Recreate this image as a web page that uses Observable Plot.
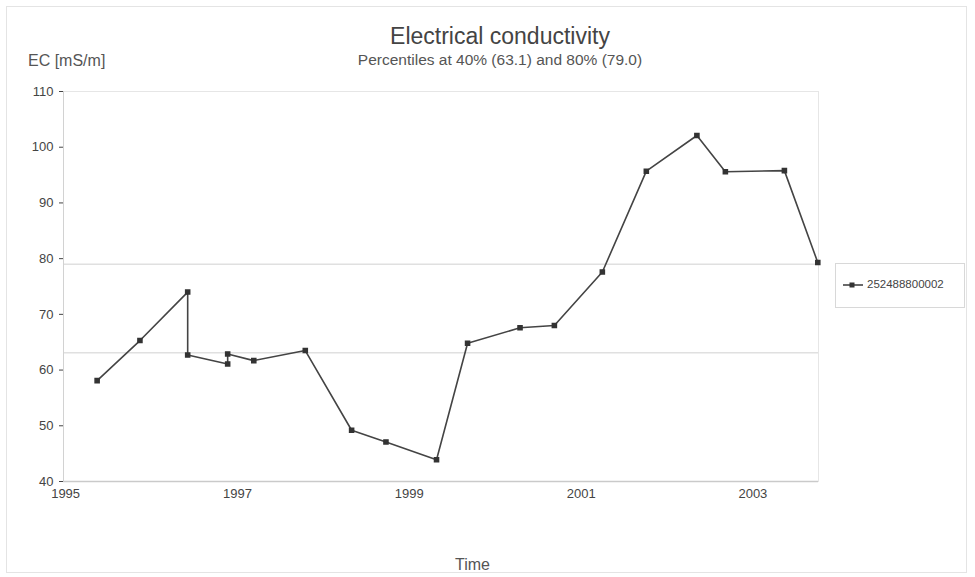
<!DOCTYPE html>
<html>
<head>
<meta charset="utf-8">
<script src="https://cdn.jsdelivr.net/npm/d3@7"></script>
<script src="https://cdn.jsdelivr.net/npm/@observablehq/plot@0.6"></script>
<style>
  html, body { margin: 0; padding: 0; background: #fff; }
  #wrap { position: relative; width: 975px; height: 577px; font-family: "Liberation Sans", Arial, sans-serif; color: #3a3a3a; }
  .abs { position: absolute; white-space: nowrap; }
  #border { position: absolute; left: 6px; top: 6px; width: 961px; height: 567px; border: 1px solid #e4e4e4; box-sizing: border-box; }
  #title { left: 0; width: 1000px; top: 23px; text-align: center; font-size: 23px; color: #444; }
  #subtitle { left: 0; width: 1000px; top: 51px; text-align: center; font-size: 15.5px; color: #555; }
  #ylabel { left: 28px; top: 52px; font-size: 16px; color: #555; }
  #xlabel { left: 0; width: 945px; top: 556px; text-align: center; font-size: 16px; color: #555; }
  #legend { left: 835px; top: 263px; width: 130px; height: 45px; border: 1px solid #d8d8d8; box-sizing: border-box; }
  #legend svg { position: absolute; left: 6px; top: 15px; }
  #legend span { position: absolute; left: 31px; top: 14px; font-size: 11.5px; color: #444; }
</style>
</head>
<body>
<div id="wrap">
  <div id="border"></div>
  <div id="chart"></div>
  <div class="abs" id="title"></div>
  <div class="abs" id="subtitle"></div>
  <div class="abs" id="ylabel"></div>
  <div class="abs" id="xlabel"></div>
  <div class="abs" id="legend"></div>
</div>
<script>
// ---- data ----
const dates = ["1995-05-15","1995-11-13","1996-06-03","1996-06-03","1996-11-20","1996-11-20","1997-03-11","1997-10-16","1998-05-01","1998-09-24","1999-04-27","1999-09-06","2000-04-16","2000-09-09","2001-04-01","2001-10-05","2002-05-08","2002-09-06","2003-05-15","2003-10-04"];
const values = [58.1,65.3,74.0,62.7,61.1,62.9,61.7,63.5,49.2,47.1,43.9,64.8,67.6,68.0,77.6,95.7,102.1,95.6,95.8,79.3];
const percentiles = [63.1, 79.0];
const yTicks = [40, 50, 60, 70, 80, 90, 100, 110];
const xTickYears = [1995, 1997, 1999, 2001, 2003];
const seriesName = "252488800002";
const titleText = "Electrical conductivity";
const subtitleText = "Percentiles at 40% (63.1) and 80% (79.0)";
const yLabelText = "EC [mS/m]";
const xLabelText = "Time";

const data = dates.map((d, i) => ({date: new Date(d), value: values[i]}));
const xTicks = xTickYears.map(y => new Date(Date.UTC(y, 0, 1)));

const chart = Plot.plot({
  width: 975,
  height: 577,
  marginLeft: 63,
  marginRight: 157,
  marginTop: 91,
  marginBottom: 96,
  style: {fontFamily: "Liberation Sans, Arial, sans-serif", fontSize: "13px", color: "#444", background: "transparent"},
  x: {type: "utc", domain: [new Date("1994-12-23"), new Date("2003-10-07")], ticks: xTicks, tickFormat: d => String(d.getUTCFullYear()), tickSize: 0, tickPadding: 7, label: null},
  y: {domain: [40, 110], ticks: yTicks, tickFormat: d => String(d), tickSize: 4, tickPadding: 6, label: null},
  marks: [
    Plot.ruleY(percentiles, {stroke: "#e0e0e0", strokeWidth: 1.5}),
    Plot.ruleY([110], {stroke: "#e0e0e0", strokeWidth: 1.2}),
    Plot.frame({stroke: "#e6e6e6", strokeWidth: 1}),
    Plot.ruleX([new Date("1994-12-23")], {stroke: "#d2d2d2"}),
    Plot.ruleY([40], {stroke: "#cacaca", strokeWidth: 1.3}),
    Plot.line(data, {x: "date", y: "value", stroke: "#444", strokeWidth: 1.6}),
    Plot.dot(data, {x: "date", y: "value", symbol: "square", r: 2.3, fill: "#333", stroke: "#333"})
  ]
});
document.getElementById("chart").appendChild(chart);
document.getElementById("title").textContent = titleText;
document.getElementById("subtitle").textContent = subtitleText;
document.getElementById("ylabel").textContent = yLabelText;
document.getElementById("xlabel").textContent = xLabelText;

const leg = document.getElementById("legend");
leg.innerHTML = '<svg width="22" height="12"><line x1="1" y1="6" x2="21" y2="6" stroke="#444" stroke-width="1.6"/><rect x="7.5" y="3.5" width="5" height="5" fill="#333"/></svg><span></span>';
leg.querySelector("span").textContent = seriesName;
</script>
</body>
</html>
